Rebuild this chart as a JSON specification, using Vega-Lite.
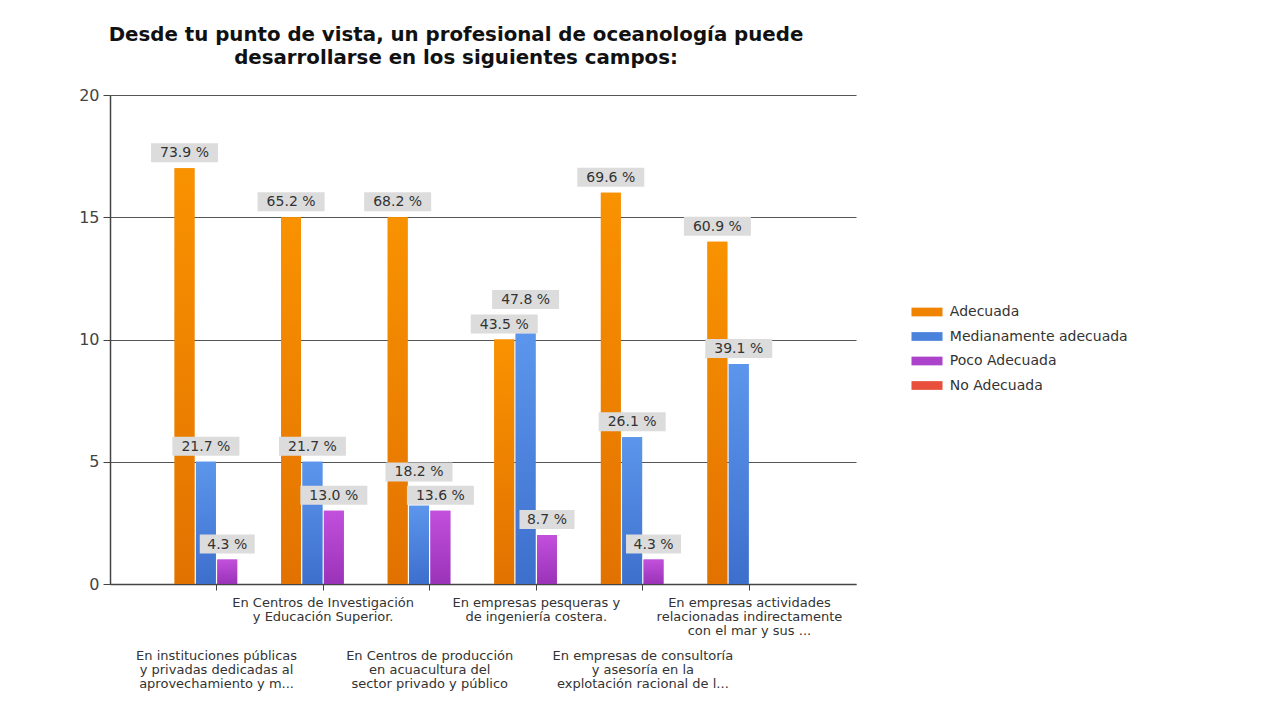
{
  "$schema": "https://vega.github.io/schema/vega-lite/v6.json",
  "width": 746,
  "height": 489,
  "autosize": {"type": "none"},
  "padding": {"left": 110, "top": 95, "right": 417, "bottom": 125},
  "background": "white",
  "title": {
    "text": ["Desde tu punto de vista, un profesional de oceanología puede", "desarrollarse en los siguientes campos:"],
    "font": "DejaVu Sans",
    "fontSize": 19.8,
    "fontWeight": "bold",
    "color": "#111111",
    "anchor": "middle",
    "dx": -27,
    "baseline": "bottom",
    "offset": -1,
    "lineHeight": 23
  },
  "config": {
    "view": {"stroke": null},
    "axis": {"labelFont": "DejaVu Sans", "labelColor": "#333333"}
  },
  "data": {
    "values": [
      {"campo": "En instituciones públicas\ny privadas dedicadas al\naprovechamiento y m...", "serie": "Adecuada", "n": 17, "pct": 73.9},
      {"campo": "En instituciones públicas\ny privadas dedicadas al\naprovechamiento y m...", "serie": "Medianamente adecuada", "n": 5, "pct": 21.7},
      {"campo": "En instituciones públicas\ny privadas dedicadas al\naprovechamiento y m...", "serie": "Poco Adecuada", "n": 1, "pct": 4.3},
      {"campo": "En instituciones públicas\ny privadas dedicadas al\naprovechamiento y m...", "serie": "No Adecuada", "n": 0, "pct": null},
      {"campo": "En Centros de Investigación\ny Educación Superior.", "serie": "Adecuada", "n": 15, "pct": 65.2},
      {"campo": "En Centros de Investigación\ny Educación Superior.", "serie": "Medianamente adecuada", "n": 5, "pct": 21.7},
      {"campo": "En Centros de Investigación\ny Educación Superior.", "serie": "Poco Adecuada", "n": 3, "pct": 13.0},
      {"campo": "En Centros de Investigación\ny Educación Superior.", "serie": "No Adecuada", "n": 0, "pct": null},
      {"campo": "En Centros de producción\nen acuacultura del\nsector privado y público", "serie": "Adecuada", "n": 15, "pct": 68.2},
      {"campo": "En Centros de producción\nen acuacultura del\nsector privado y público", "serie": "Medianamente adecuada", "n": 3.2, "pct": 18.2},
      {"campo": "En Centros de producción\nen acuacultura del\nsector privado y público", "serie": "Poco Adecuada", "n": 3, "pct": 13.6},
      {"campo": "En Centros de producción\nen acuacultura del\nsector privado y público", "serie": "No Adecuada", "n": 0, "pct": null},
      {"campo": "En empresas pesqueras y\nde ingeniería costera.", "serie": "Adecuada", "n": 10, "pct": 43.5},
      {"campo": "En empresas pesqueras y\nde ingeniería costera.", "serie": "Medianamente adecuada", "n": 10.25, "pct": 47.8},
      {"campo": "En empresas pesqueras y\nde ingeniería costera.", "serie": "Poco Adecuada", "n": 2, "pct": 8.7},
      {"campo": "En empresas pesqueras y\nde ingeniería costera.", "serie": "No Adecuada", "n": 0, "pct": null},
      {"campo": "En empresas de consultoría\ny asesoría en la\nexplotación racional de l...", "serie": "Adecuada", "n": 16, "pct": 69.6},
      {"campo": "En empresas de consultoría\ny asesoría en la\nexplotación racional de l...", "serie": "Medianamente adecuada", "n": 6, "pct": 26.1},
      {"campo": "En empresas de consultoría\ny asesoría en la\nexplotación racional de l...", "serie": "Poco Adecuada", "n": 1, "pct": 4.3},
      {"campo": "En empresas de consultoría\ny asesoría en la\nexplotación racional de l...", "serie": "No Adecuada", "n": 0, "pct": null},
      {"campo": "En empresas actividades\nrelacionadas indirectamente\ncon el mar y sus ...", "serie": "Adecuada", "n": 14, "pct": 60.9},
      {"campo": "En empresas actividades\nrelacionadas indirectamente\ncon el mar y sus ...", "serie": "Medianamente adecuada", "n": 9, "pct": 39.1},
      {"campo": "En empresas actividades\nrelacionadas indirectamente\ncon el mar y sus ...", "serie": "Poco Adecuada", "n": 0, "pct": null},
      {"campo": "En empresas actividades\nrelacionadas indirectamente\ncon el mar y sus ...", "serie": "No Adecuada", "n": 0, "pct": null}
    ]
  },
  "encoding": {
    "x": {
      "field": "campo",
      "type": "nominal",
      "sort": null,
      "scale": {"paddingInner": 0.212, "paddingOuter": 0.606},
      "axis": {
        "title": null,
        "labelAngle": 0,
        "labelExpr": "split(datum.label, '\\n')",
        "labelFontSize": 13,
        "labelLineHeight": 14,
        "labelLimit": 400,
        "labelOverlap": false,
        "labelPadding": {"condition": {"test": "test(/^En (instituciones|Centros de producci|empresas de consult)/, datum.value)", "value": 59}, "value": 6},
        "labelBaseline": "top",
        "tickSize": 6,
        "tickColor": "#444444",
        "domainColor": "#444444",
        "domainWidth": 1.5
      }
    },
    "xOffset": {
      "field": "serie",
      "type": "nominal",
      "scale": {"domain": ["Adecuada", "Medianamente adecuada", "Poco Adecuada", "No Adecuada"], "paddingInner": 0.07}
    },
    "y": {
      "field": "n",
      "type": "quantitative",
      "scale": {"domain": [0, 20], "nice": false},
      "axis": {
        "title": null,
        "values": [0, 5, 10, 15, 20],
        "labelFontSize": 16,
        "labelColor": "#444444",
        "labelPadding": 4,
        "tickSize": 7,
        "tickColor": "#444444",
        "domainColor": "#444444",
        "domainWidth": 1.5,
        "grid": true,
        "gridColor": "#555555",
        "gridWidth": 1.2
      }
    }
  },
  "layer": [
    {
      "mark": {"type": "bar"},
      "encoding": {
        "color": {
          "field": "serie",
          "type": "nominal",
          "scale": {
            "domain": ["Adecuada", "Medianamente adecuada", "Poco Adecuada", "No Adecuada"],
            "range": ["#F08300", "#4B82DC", "#AC43CB", "#E8503C"]
          },
          "legend": {
            "title": null,
            "orient": "none",
            "legendX": 807,
            "legendY": 207,
            "symbolType": "M-1.6,-0.45H1.6V0.45H-1.6Z",
            "symbolSize": 376,
            "symbolStrokeWidth": 0,
            "labelFont": "DejaVu Sans",
            "labelFontSize": 14,
            "labelColor": "#333333",
            "labelLimit": 400,
            "labelOffset": 12.8,
            "rowPadding": 7.5
          }
        }
      }
    },
    {
      "mark": {"type": "bar"},
      "encoding": {
        "fill": {
          "condition": [
            {"test": "datum.serie == 'Adecuada'", "value": {"gradient": "linear", "x1": 0, "y1": 0, "x2": 0, "y2": 1, "stops": [{"offset": 0, "color": "#F99200"}, {"offset": 1, "color": "#E27200"}]}},
            {"test": "datum.serie == 'Medianamente adecuada'", "value": {"gradient": "linear", "x1": 0, "y1": 0, "x2": 0, "y2": 1, "stops": [{"offset": 0, "color": "#5C96EC"}, {"offset": 1, "color": "#3D6FCD"}]}},
            {"test": "datum.serie == 'Poco Adecuada'", "value": {"gradient": "linear", "x1": 0, "y1": 0, "x2": 0, "y2": 1, "stops": [{"offset": 0, "color": "#C250DC"}, {"offset": 1, "color": "#9A33B8"}]}}
          ],
          "value": "#E8503C"
        }
      }
    },
    {
      "transform": [
        {"filter": "datum.n > 0"},
        {"window": [{"op": "lag", "field": "n", "as": "prevN"}, {"op": "lead", "field": "n", "as": "nextN"}], "groupby": ["campo"], "sort": [{"field": "serie", "order": "ascending"}]},
        {"calculate": "((datum.prevN != null && datum.n >= datum.prevN && datum.n - datum.prevN < 0.8) || (datum.nextN != null && datum.n >= datum.nextN && datum.n - datum.nextN < 0.8)) ? datum.n + 0.75 : datum.n", "as": "labelY"},
        {"calculate": "format(datum.pct, '.1f') + ' %'", "as": "etiqueta"},
        {"calculate": "length(datum.etiqueta)", "as": "nchar"}
      ],
      "layer": [
        {
          "mark": {"type": "tick", "orient": "horizontal", "thickness": 19, "yOffset": -15.5, "color": "#DCDCDC", "opacity": 1},
          "encoding": {
            "y": {"field": "labelY", "type": "quantitative"},
            "size": {"field": "nchar", "type": "quantitative", "scale": {"domain": [5, 6], "range": [55, 67]}, "legend": null}
          }
        },
        {
          "mark": {"type": "text", "font": "DejaVu Sans", "fontSize": 14, "color": "#333333", "baseline": "middle", "align": "center", "yOffset": -15},
          "encoding": {
            "y": {"field": "labelY", "type": "quantitative"},
            "text": {"field": "etiqueta", "type": "nominal"}
          }
        }
      ]
    }
  ]
}
